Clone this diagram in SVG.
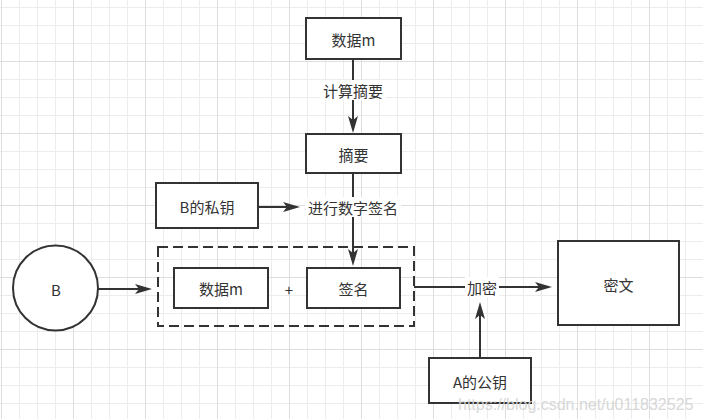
<svg xmlns="http://www.w3.org/2000/svg" width="715" height="419" viewBox="0 0 715 419">
<style>
.box{fill:#ffffff;stroke:#333333;stroke-width:2}
.dash{fill:none;stroke:#333333;stroke-width:2;stroke-dasharray:10 5}
.t{font-family:"Noto Sans CJK SC","Liberation Sans",sans-serif;font-size:15px;fill:#333333;text-anchor:middle;dominant-baseline:central}
.edge{fill:none;stroke:#333333;stroke-width:2}
.lbg{fill:#ffffff}
.wm{font-family:"Liberation Sans",Arial,sans-serif;font-size:16px;fill:#d4d4d4;opacity:0.9}
</style>
<defs>
<pattern id="minor" patternUnits="userSpaceOnUse" x="1" y="7" width="18" height="18">
<rect x="0" y="0" width="18" height="1" fill="#ececec"/>
<rect x="0" y="0" width="1" height="18" fill="#ececec"/>
</pattern>
<pattern id="major" patternUnits="userSpaceOnUse" x="1" y="61" width="72" height="72">
<rect x="0" y="0" width="72" height="1" fill="#dedede"/>
<rect x="0" y="0" width="1" height="72" fill="#dedede"/>
</pattern>
<marker id="arr" markerUnits="userSpaceOnUse" markerWidth="17" markerHeight="10" refX="4" refY="5" orient="auto" viewBox="0 0 17 10">
<path d="M0,0 L17,5 L0,10 L4,5 Z" fill="#333333"/>
</marker>
</defs>
<rect x="0" y="0" width="715" height="419" fill="#ffffff"/>
<rect x="0" y="0" width="703" height="419" fill="url(#minor)"/>
<rect x="0" y="0" width="703" height="419" fill="url(#major)"/>

<g id="connectors">
<path class="edge" d="M353,59 L353,120" marker-end="url(#arr)"/>
<path class="edge" d="M353,173 L353,253" marker-end="url(#arr)"/>
<path class="edge" d="M258,207 L287,207" marker-end="url(#arr)"/>
<path class="edge" d="M98,289 L139,289" marker-end="url(#arr)"/>
<path class="edge" d="M414,287 L539,287" marker-end="url(#arr)"/>
<path class="edge" d="M480,358 L480,315" marker-end="url(#arr)"/>
<g id="labels">
<rect class="lbg" x="320" y="80" width="66" height="20"/>
<text class="t" x="353" y="90">计算摘要</text>
<rect class="lbg" x="305" y="197" width="96" height="20"/>
<text class="t" x="353" y="207">进行数字签名</text>
<rect class="lbg" x="465" y="277" width="34" height="20"/>
<text class="t" x="482" y="287">加密</text>
</g>
</g>

<g id="node-data-top">
<rect class="box" x="306" y="18" width="95" height="41"/>
<text class="t" x="353.5" y="39">数据m</text>
</g>
<g id="node-digest">
<rect class="box" x="306" y="134" width="95" height="39"/>
<text class="t" x="353.5" y="154">摘要</text>
</g>
<g id="node-b-private">
<rect class="box" x="156" y="183" width="102" height="45"/>
<text class="t" x="207" y="206">B的私钥</text>
</g>
<g id="node-b">
<circle cx="55.5" cy="288" r="42.5" fill="#ffffff" stroke="#333333" stroke-width="2"/>
<text class="t" x="56" y="289">B</text>
</g>
<g id="node-container">
<rect class="dash" x="158" y="247" width="256" height="79"/>
</g>
<g id="node-data-inner">
<rect class="box" x="174" y="268" width="94" height="40"/>
<text class="t" x="221" y="288">数据m</text>
</g>
<g id="node-plus">
<text class="t" x="289" y="289">+</text>
</g>
<g id="node-signature">
<rect class="box" x="307" y="268" width="93" height="40"/>
<text class="t" x="353.5" y="288">签名</text>
</g>
<g id="node-ciphertext">
<rect class="box" x="558" y="241" width="121" height="84"/>
<text class="t" x="618.5" y="284">密文</text>
</g>
<g id="node-a-public">
<rect class="box" x="429" y="358" width="102" height="45"/>
<text class="t" x="480" y="381">A的公钥</text>
</g>
<text class="wm" x="458" y="410">https://blog.csdn.net/u011832525</text>
</svg>
